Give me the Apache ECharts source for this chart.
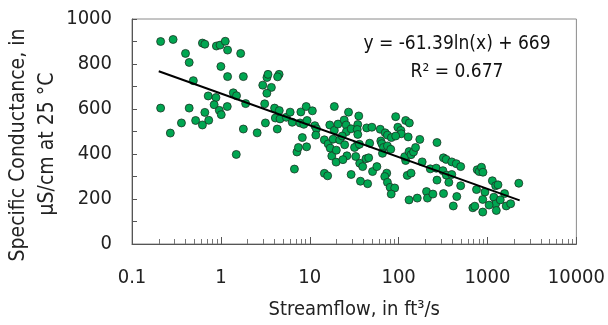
<!DOCTYPE html>
<html>
<head>
<meta charset="utf-8" />
<script src="https://cdn.jsdelivr.net/npm/echarts@6.0.0/dist/echarts.min.js"></script>
<style>
  html, body { margin: 0; padding: 0; background: #fff; }
  #chart { width: 608px; height: 325px; }
</style>
</head>
<body>
<div id="chart"></div>
<script>
// streamflow (ft3/s) and specific conductance (uS/cm)
const streamflow = [
  0.21, 0.29, 0.62, 0.66, 0.89, 0.98, 1.12, 1.19, 1.67, 0.40, 0.44, 1.0, 1.19, 1.79, 0.49, 0.72, 0.88,
  1.38, 1.5, 1.9, 0.84, 1.18, 0.21, 0.44, 0.66, 0.96, 1.01, 0.52, 0.73, 0.62, 0.36, 0.27, 1.79, 1.49,
  2.56, 3.17, 4.31, 2.96, 3.3, 3.39, 3.7, 3.29, 4.52, 4.35, 3.11, 4.02, 4.54, 4.1, 4.63, 5.45, 6.02,
  6.35, 6.72, 7.17, 7.45, 7.94, 9.12, 10.7, 7.78, 8.58, 9.33, 8.25, 9.21, 11.4, 11.9, 11.7, 14.6, 16.1,
  17.0, 17.7, 19.8, 14.6, 15.9, 16.8, 18.9, 18.9, 20.8, 18.3, 21.7, 19.9, 24.4, 25.7, 25.8, 26.2, 23.6,
  24.7, 23.2,
  27.3, 35.6, 29.2, 34.7, 34.2, 34.7, 43.7, 50, 62.1, 92.6, 120, 132, 98, 106, 107, 70.6, 74.8, 82.9,
  92.6, 128, 34.1, 31.9, 36.2, 47.2, 29.2, 36.5, 39.4, 37.2, 44.8, 42.9, 46, 32.9, 50.9, 56.9, 63, 64.7,
  67.5, 74.8, 81.5, 65.8, 73.5, 69.8, 74.8, 80.2, 90.3, 82.5, 120, 117, 131, 138, 147, 155, 173, 184,
  125, 138, 131, 162, 206, 211, 243, 270, 227, 265, 319, 342, 315, 344, 270, 320, 367, 396,
  396, 445, 499, 499, 451, 412, 766, 806, 855, 889, 752, 1134, 1234, 1312, 935, 884, 1178, 1234, 1256,
  1555, 1392, 1042, 1624, 1822, 684, 720, 884, 2249
];
const conductance = [
  900, 909, 893, 888, 880, 884, 901, 862, 847, 847, 807, 789, 744, 744, 726, 658, 651,
  672, 659, 624, 619, 611, 604, 604, 585, 594, 575, 549, 550, 529, 538, 493, 511, 398,
  494, 538, 511, 706, 740, 754, 696, 670, 754, 743, 623, 604, 593, 560, 556, 563, 586,
  541, 333, 409, 429, 587, 611, 592, 538, 532, 549, 473, 432, 526, 512, 484, 463, 445,
  426, 391, 364, 314, 303, 529, 611, 505, 533, 466, 462, 417, 551, 529, 499, 392, 375,
  441, 480,
  586, 569, 512, 531, 509, 487, 516, 519, 510, 566, 549, 538, 519, 505, 490, 494, 484, 473,
  480, 476, 439, 429, 443, 448, 309, 359, 344, 279, 268, 379, 383, 389, 322, 344, 458, 446,
  429, 436, 421, 403, 315, 300, 274, 252, 249, 222, 371, 388, 411, 397, 409, 429, 465, 365,
  305, 315, 196, 204, 233, 204, 222, 451, 334, 337, 383, 376, 326, 306, 284, 224, 274, 309,
  365, 357, 344, 259, 211, 169, 330, 322, 341, 319, 242, 281, 259, 263, 231, 198, 208, 178, 149,
  224, 196, 173, 169, 179, 161, 168, 142, 270
];

// trend line y = -61.39 ln(x) + 669, drawn over the range of the data
const trendSlope = -61.39;
const trendIntercept = 669;
const trendRange = [0.2, 2300];

const decades = [0.1, 1, 10, 100, 1000];
const minorSteps = [2, 3, 4, 5, 6, 7, 8, 9];

const font = "'DejaVu Sans', sans-serif";
const stretch = 'condensed';

var minorTicks = [];
decades.forEach(function (d) {
  minorSteps.forEach(function (m) {
    minorTicks.push(+(d * m).toPrecision(3));
  });
});

var points = streamflow.map(function (x, i) {
  return [x, conductance[i]];
});
var trend = trendRange.map(function (x) {
  return [x, trendSlope * Math.log(x) + trendIntercept];
});

var chartDom = document.getElementById('chart');
var myChart = echarts.init(chartDom);
var option;

option = {
  animation: false,
  grid: {
    left: 132,
    right: 28,
    top: 19,
    bottom: 77,
    show: true,
    borderColor: '#8a8a8a',
    borderWidth: 1,
  },
  xAxis: [
    {
      type: 'log',
      logBase: 10,
      min: 0.1,
      max: 10000,
      position: 'bottom',
      axisLine: { lineStyle: { color: '#555', width: 1 } },
      axisTick: { inside: true, length: 7, lineStyle: { color: '#555' } },
      splitLine: { show: false },
      axisLabel: {
        margin: 24,
        color: '#222',
        fontSize: 20,
        fontWeight: stretch,
        fontFamily: font,
        formatter: function (v) {
          return String(v);
        },
      },
      name: 'Streamflow, in ft³/s',
      nameLocation: 'middle',
      nameGap: 56,
      nameTextStyle: { color: '#222', fontSize: 20, fontWeight: stretch, fontFamily: font },
    },
    {
      type: 'log',
      logBase: 10,
      min: 0.1,
      max: 10000,
      position: 'bottom',
      axisLine: { show: false },
      axisTick: {
        inside: true,
        length: 5,
        customValues: minorTicks,
        lineStyle: { color: '#777' },
      },
      axisLabel: { show: false },
      splitLine: { show: false },
    },
  ],
  yAxis: {
    type: 'value',
    min: 0,
    max: 1000,
    interval: 200,
    axisLine: { show: true, lineStyle: { color: '#555', width: 1 } },
    axisTick: { show: true, inside: true, length: 5, lineStyle: { color: '#555' } },
    minorTick: { show: true, splitNumber: 2, length: 5, lineStyle: { color: '#555' } },
    splitLine: { show: false },
    axisLabel: {
      margin: 20,
      color: '#222',
      fontSize: 20,
      fontWeight: stretch,
      fontFamily: font,
      formatter: function (v) {
        return String(v);
      },
    },
  },
  graphic: [
    {
      type: 'text',
      x: 19,
      y: 145,
      rotation: Math.PI / 2,
      style: {
        text: 'Specific Conductance, in',
        fill: '#222',
        font: stretch + ' 21px ' + font,
        textAlign: 'center',
        textVerticalAlign: 'middle',
      },
    },
    {
      type: 'text',
      x: 48,
      y: 144,
      rotation: Math.PI / 2,
      style: {
        text: 'µS/cm at 25 °C',
        fill: '#222',
        font: stretch + ' 21px ' + font,
        textAlign: 'center',
        textVerticalAlign: 'middle',
      },
    },
    {
      type: 'text',
      x: 457,
      y: 44,
      style: {
        text: 'y = -61.39ln(x) + 669',
        fill: '#111',
        font: stretch + ' 19px ' + font,
        textAlign: 'center',
        textVerticalAlign: 'middle',
      },
    },
    {
      type: 'text',
      x: 457,
      y: 72,
      style: {
        text: 'R² = 0.677',
        fill: '#111',
        font: stretch + ' 19px ' + font,
        textAlign: 'center',
        textVerticalAlign: 'middle',
      },
    },
  ],
  series: [
    {
      name: 'samples',
      type: 'scatter',
      symbolSize: 8,
      itemStyle: { color: '#00a651', opacity: 1, borderColor: '#1c3324', borderWidth: 0.8 },
      data: points,
      z: 2,
    },
    {
      name: 'trend',
      type: 'line',
      data: trend,
      symbol: 'none',
      lineStyle: { color: '#000', width: 2 },
      z: 3,
    },
  ],
};

option && myChart.setOption(option);
</script>
</body>
</html>
